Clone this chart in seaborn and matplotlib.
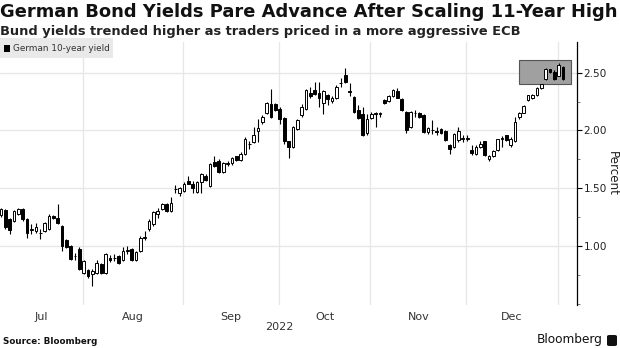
import numpy as np
import pandas as pd
import matplotlib
matplotlib.use("Agg")
import matplotlib.pyplot as plt
from matplotlib.patches import Rectangle, FancyBboxPatch
from matplotlib.ticker import FixedLocator
import seaborn as sns

# ---------------- data ----------------
opens = [1.27, 1.31, 1.23, 1.22, 1.28, 1.32, 1.23, 1.14, 1.13, 1.11,
         1.13, 1.15, 1.26, 1.245, 1.17, 1.05, 1.00, 0.91, 0.97, 0.77,
         0.795, 0.76, 0.77, 0.84, 0.77, 0.90, 0.895, 0.91, 0.88, 0.96,
         0.97, 0.88, 0.955, 1.07, 1.15, 1.19, 1.275, 1.32, 1.36, 1.30,
         1.49, 1.46, 1.48, 1.565, 1.54, 1.47, 1.55, 1.61, 1.52, 1.725,
         1.74, 1.64, 1.71, 1.72, 1.775, 1.745, 1.80, 1.88, 1.90, 1.995,
         2.07, 2.15, 2.23, 2.23, 2.19, 2.11, 1.905, 1.86, 2.015, 2.13,
         2.19, 2.325, 2.35, 2.325, 2.24, 2.305, 2.256, 2.285, 2.41, 2.48,
         2.34, 2.29, 2.18, 2.145, 1.975, 2.11, 2.145, 2.145, 2.26, 2.255,
         2.30, 2.34, 2.276, 2.16, 2.03, 2.15, 2.15, 2.137, 1.99, 2.00,
         1.995, 2.015, 1.995, 1.87, 1.855, 1.915, 1.93, 1.935, 1.835, 1.80,
         1.855, 1.905, 1.75, 1.775, 1.83, 1.93, 1.957, 1.87, 1.91, 2.117,
         2.155, 2.262, 2.28, 2.305, 2.364, 2.445, 2.53, 2.51, 2.474, 2.55]
highs = [1.33, 1.32, 1.24, 1.31, 1.33, 1.33, 1.24, 1.19, 1.20, 1.15,
         1.21, 1.28, 1.27, 1.36, 1.18, 1.06, 1.01, 0.94, 0.99, 0.88,
         0.80, 0.80, 0.88, 0.85, 0.94, 0.92, 0.93, 0.92, 0.99, 1.00,
         0.98, 0.955, 1.085, 1.13, 1.23, 1.30, 1.33, 1.37, 1.37, 1.42,
         1.53, 1.51, 1.55, 1.61, 1.56, 1.56, 1.63, 1.62, 1.72, 1.78,
         1.75, 1.73, 1.74, 1.77, 1.78, 1.81, 1.94, 1.91, 2.03, 2.10,
         2.13, 2.25, 2.355, 2.24, 2.20, 2.12, 1.91, 2.04, 2.10, 2.23,
         2.36, 2.38, 2.42, 2.42, 2.35, 2.32, 2.30, 2.39, 2.45, 2.54,
         2.41, 2.30, 2.22, 2.20, 2.14, 2.16, 2.16, 2.16, 2.27, 2.31,
         2.36, 2.37, 2.28, 2.17, 2.17, 2.175, 2.16, 2.14, 2.03, 2.09,
         2.03, 2.02, 2.00, 1.88, 1.98, 2.03, 1.96, 1.965, 1.87, 1.87,
         1.91, 1.91, 1.79, 1.83, 1.93, 1.95, 1.96, 1.94, 2.12, 2.16,
         2.22, 2.31, 2.32, 2.38, 2.405, 2.54, 2.535, 2.52, 2.58, 2.56]
lows = [1.25, 1.15, 1.10, 1.21, 1.27, 1.22, 1.07, 1.10, 1.11, 1.06,
        1.12, 1.14, 1.23, 1.19, 0.955, 0.98, 0.88, 0.88, 0.79, 0.76,
        0.72, 0.655, 0.76, 0.76, 0.76, 0.86, 0.87, 0.84, 0.87, 0.93,
        0.87, 0.87, 0.95, 1.05, 1.13, 1.17, 1.245, 1.31, 1.29, 1.29,
        1.46, 1.43, 1.47, 1.535, 1.46, 1.46, 1.46, 1.56, 1.51, 1.68,
        1.63, 1.63, 1.69, 1.70, 1.74, 1.74, 1.79, 1.84, 1.89, 1.90,
        2.06, 2.14, 2.11, 2.17, 2.06, 1.88, 1.76, 1.85, 2.00, 2.12,
        2.18, 2.28, 2.31, 2.20, 2.145, 2.22, 2.24, 2.27, 2.38, 2.41,
        2.30, 2.15, 2.10, 1.955, 1.96, 2.10, 2.03, 2.12, 2.23, 2.25,
        2.29, 2.28, 2.17, 1.98, 2.02, 2.12, 2.11, 1.98, 1.97, 1.97,
        1.96, 1.97, 1.91, 1.80, 1.85, 1.90, 1.90, 1.91, 1.79, 1.79,
        1.85, 1.78, 1.74, 1.77, 1.82, 1.86, 1.91, 1.86, 1.90, 2.10,
        2.15, 2.255, 2.27, 2.30, 2.36, 2.44, 2.50, 2.44, 2.47, 2.44]
closes = [1.32, 1.16, 1.14, 1.30, 1.32, 1.23, 1.11, 1.145, 1.16, 1.115,
          1.20, 1.26, 1.24, 1.20, 1.00, 0.99, 0.89, 0.915, 0.80, 0.87,
          0.74, 0.78, 0.85, 0.77, 0.93, 0.875, 0.90, 0.85, 0.955, 0.965,
          0.875, 0.945, 1.07, 1.075, 1.215, 1.29, 1.30, 1.36, 1.30, 1.375,
          1.492, 1.50, 1.535, 1.54, 1.505, 1.55, 1.62, 1.575, 1.71, 1.69,
          1.64, 1.72, 1.712, 1.76, 1.745, 1.80, 1.93, 1.885, 1.965, 2.02,
          2.12, 2.24, 2.12, 2.18, 2.10, 1.91, 1.86, 2.03, 2.09, 2.20,
          2.35, 2.295, 2.32, 2.285, 2.34, 2.27, 2.285, 2.38, 2.413, 2.42,
          2.335, 2.16, 2.11, 1.957, 2.10, 2.145, 2.15, 2.148, 2.24, 2.295,
          2.35, 2.285, 2.175, 2.00, 2.16, 2.152, 2.12, 1.99, 2.02, 2.003,
          1.99, 1.977, 1.92, 1.84, 1.97, 1.995, 1.935, 1.93, 1.805, 1.855,
          1.885, 1.79, 1.78, 1.82, 1.928, 1.935, 1.92, 1.93, 2.073, 2.155,
          2.21, 2.305, 2.31, 2.364, 2.40, 2.53, 2.505, 2.445, 2.567, 2.445]

first_date = "2022-07-05"
market_holidays = ["2022-12-26"]
month_labels = ["Jul", "Aug", "Sep", "Oct", "Nov", "Dec"]
year_label = "2022"
ytick_values = [1.00, 1.50, 2.00, 2.50]
ytick_labels = ["1.00", "1.50", "2.00", "2.50"]
yminor_values = [0.50, 0.75, 1.25, 1.75, 2.25]
series_name = "German 10-year yield"
title = "German Bond Yields Pare Advance After Scaling 11-Year High"
subtitle = "Bund yields trended higher as traders priced in a more aggressive ECB"
source = "Source: Bloomberg"
brand = "Bloomberg"
y_label = "Percent"
highlight_x = (119.0, 130.9)     # grey highlight box, in trading-day units
highlight_y = (2.40, 2.61)

# ---------------- frame ----------------
dates = pd.bdate_range(first_date, periods=len(opens), freq="C", holidays=market_holidays)
df = pd.DataFrame({"date": dates, "open": opens, "high": highs, "low": lows, "close": closes})
df["x"] = np.arange(len(df))
df["up"] = df["close"] >= df["open"]
df["body_lo"] = df[["open", "close"]].min(axis=1)
df["body_h"] = (df["close"] - df["open"]).abs().clip(lower=0.005)

sns.set_theme(style="white")
plt.rcParams["font.family"] = ["DejaVu Sans"]

W, H = 620, 348
fig = plt.figure(figsize=(W / 100, H / 100), dpi=100)
fig.patch.set_facecolor("white")

def fx(p):
    return p / W

def fy(p):
    return 1 - p / H

ax_left, ax_right, ax_top, ax_bottom = 0, 576.5, 42, 305
ax = fig.add_axes([fx(ax_left), fy(ax_bottom), fx(ax_right - ax_left), (ax_bottom - ax_top) / H])

# month boundaries from the dates
month_id = df["date"].dt.to_period("M")
starts = df.index[month_id != month_id.shift()].tolist()
bounds = [s - 0.2 for s in starts[1:]]
xlo, xhi = -0.23, 132.1
ax.set_xlim(xlo, xhi)
ax.set_ylim(0.489, 2.766)

edges = [xlo] + bounds
centers = [(edges[k] + edges[k + 1]) / 2 for k in range(len(month_labels))]

for b in bounds:
    ax.axvline(b, color="#e6e6e6", lw=0.9, zorder=1)
for v in ytick_values:
    ax.axhline(v, color="#e6e6e6", lw=0.9, zorder=1)

# highlight box
ax.add_patch(Rectangle((highlight_x[0], highlight_y[0]),
                       highlight_x[1] - highlight_x[0], highlight_y[1] - highlight_y[0],
                       facecolor="#a0a0a0", edgecolor="#555555", lw=0.8, zorder=2))

# candles
ax.vlines(df["x"], df["low"], df["high"], color="black", lw=0.8, zorder=3)
up = df[df["up"]]
dn = df[~df["up"]]
ax.bar(up["x"], up["body_h"], bottom=up["body_lo"], width=0.62,
       color="white", edgecolor="black", linewidth=0.7, zorder=4)
ax.bar(dn["x"], dn["body_h"], bottom=dn["body_lo"], width=0.62,
       color="black", edgecolor="black", linewidth=0.7, zorder=4)

# axes styling
for s in ["top", "left", "bottom"]:
    ax.spines[s].set_visible(False)
ax.spines["right"].set_color("black")
ax.spines["right"].set_linewidth(0.9)
ax.yaxis.tick_right()
ax.set_yticks(ytick_values)
ax.set_yticklabels(ytick_labels)
ax.yaxis.set_minor_locator(FixedLocator(yminor_values))
ax.tick_params(axis="y", which="major", direction="out", length=3.5, width=0.8,
               color="black", pad=1.5, labelsize=7.6, labelcolor="#222222", right=True, left=False)
ax.tick_params(axis="y", which="minor", direction="out", length=2, width=0.6,
               color="#666666", right=True, left=False)
ax.set_xticks(centers)
ax.set_xticklabels(month_labels)
ax.tick_params(axis="x", which="major", length=0, pad=5, labelsize=8, labelcolor="#333333")
ax.grid(False)

# year label centred on the 2022 part of the axis
ax.text((xlo + bounds[-1]) / 2, -0.085, year_label, transform=ax.get_xaxis_transform(),
        ha="center", va="center", fontsize=8, color="#333333")

fig.text(fx(612.5), fy(173), y_label, rotation=270, ha="center", va="center",
         fontsize=8.6, color="#222222")

# titles, fitted to the reference widths
renderer = fig.canvas.get_renderer()

def fit(t, target):
    bb = t.get_window_extent(renderer)
    t.set_fontsize(t.get_fontsize() * target / bb.width)

t1 = fig.text(fx(0), fy(12), title, ha="left", va="center", fontsize=14,
              fontweight="bold", color="#111111")
fit(t1, 617)
t2 = fig.text(fx(0), fy(31), subtitle, ha="left", va="center", fontsize=11,
              fontweight="bold", color="#222222")
fit(t2, 517)

# legend
fig.patches.append(FancyBboxPatch((fx(0), fy(58)), fx(113), 20 / H,
                                  boxstyle="square,pad=0", transform=fig.transFigure,
                                  facecolor="#e9e9e9", edgecolor="none", zorder=5))
fig.patches.append(Rectangle((fx(4), fy(51.5)), fx(6), 6 / H, transform=fig.transFigure,
                             facecolor="black", edgecolor="none", zorder=6))
t3 = fig.text(fx(13), fy(48.5), series_name, ha="left", va="center", fontsize=7,
              color="#333333", zorder=7)
fit(t3, 97)

t4 = fig.text(fx(3), fy(341), source, ha="left", va="center", fontsize=7,
              fontweight="bold", color="#111111")
fit(t4, 95)
t5 = fig.text(fx(537), fy(340), brand, ha="left", va="center", fontsize=9,
              color="#111111")
fit(t5, 66)
fig.patches.append(FancyBboxPatch((fx(607), fy(346)), fx(10), 11 / H,
                                  boxstyle="round,pad=0,rounding_size=0.004",
                                  transform=fig.transFigure, facecolor="#111111",
                                  edgecolor="none", zorder=5))

fig.savefig("out.png", dpi=100, facecolor="white")
